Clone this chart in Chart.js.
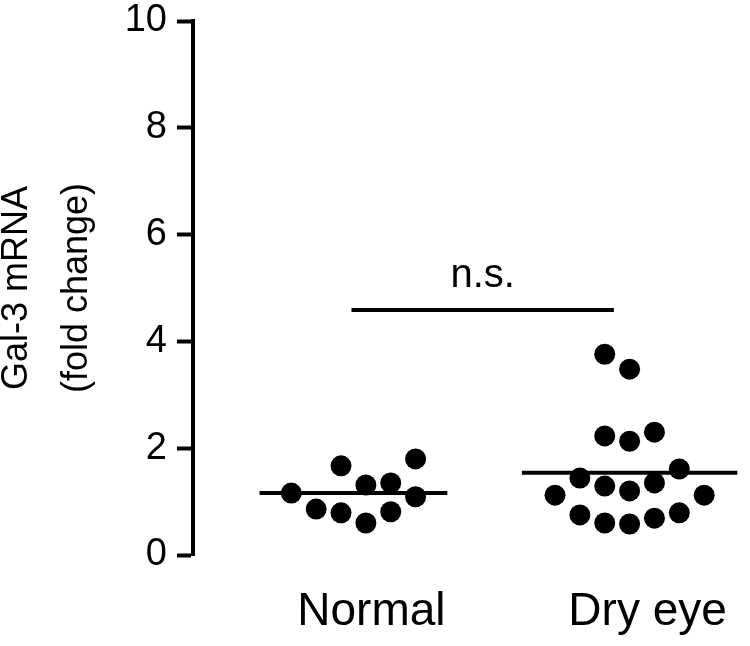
<!DOCTYPE html>
<html>
<head>
<meta charset="utf-8">
<script src="https://cdn.jsdelivr.net/npm/chart.js@4/dist/chart.umd.min.js"></script>
<style>
  html, body { margin: 0; padding: 0; background: #fff; }
  #wrap { width: 750px; height: 646px; }
</style>
</head>
<body>
<div id="wrap"><canvas id="c" width="750" height="646"></canvas></div>
<script>
// ---- Data ----
const categories = ['Normal', 'Dry eye'];
const categoryPositions = [1, 2];
const yTicks = [0, 2, 4, 6, 8, 10];

const normalValues = [1.16, 0.86, 1.67, 0.79, 1.31, 0.60, 1.35, 0.81, 1.80, 1.09];
const normalSlots  = [-2.5, -1.5, -0.5, -0.5, 0.5, 0.5, 1.5, 1.5, 2.5, 2.5];

const dryEyeValues = [3.76, 3.48, 2.23, 2.13, 2.30, 1.44, 1.29, 1.20, 1.35, 1.61, 1.12, 1.12, 0.75, 0.60, 0.58, 0.69, 0.79];
const dryEyeSlots  = [-1, 0, -1, 0, 1, -2, -1, 0, 1, 2, -3, 3, -2, -1, 0, 1, 2];

const groupMeans = [1.16, 1.54];
const meanHalfWidths = [0.34, 0.39];

const sigBar = { from: 0.993, to: 1.943, y: 4.59, label: 'n.s.', labelY: 5.02 };

const yTitle = ['Gal-3 mRNA', '(fold change)'];

// ---- Build datasets ----
const slotWidth = 0.09;
function pts(center, values, slots) {
  return values.map((v, i) => ({ x: center + slots[i] * slotWidth, y: v }));
}
const FONT = "'Liberation Sans', Arial, Helvetica, sans-serif";

const datasets = [
  {
    label: 'Normal',
    data: pts(categoryPositions[0], normalValues, normalSlots),
    pointRadius: 10.5, pointBackgroundColor: '#000', pointBorderWidth: 0, showLine: false
  },
  {
    label: 'Dry eye',
    data: pts(categoryPositions[1], dryEyeValues, dryEyeSlots),
    pointRadius: 10.5, pointBackgroundColor: '#000', pointBorderWidth: 0, showLine: false
  }
];
groupMeans.forEach((m, i) => {
  datasets.push({
    label: 'mean ' + categories[i],
    type: 'line',
    data: [{ x: categoryPositions[i] - meanHalfWidths[i], y: m }, { x: categoryPositions[i] + meanHalfWidths[i], y: m }],
    borderColor: '#000', borderWidth: 4, pointRadius: 0, showLine: true, fill: false
  });
});
datasets.push({
  label: 'bracket',
  type: 'line',
  data: [{ x: sigBar.from, y: sigBar.y }, { x: sigBar.to, y: sigBar.y }],
  borderColor: '#000', borderWidth: 4, pointRadius: 0, showLine: true, fill: false
});

const sigLabelPlugin = {
  id: 'sigLabel',
  afterDatasetsDraw(chart) {
    const { ctx, scales: { x, y } } = chart;
    ctx.save();
    ctx.fillStyle = '#000';
    ctx.font = '40px ' + FONT;
    ctx.textAlign = 'center';
    ctx.textBaseline = 'alphabetic';
    ctx.fillText(sigBar.label, x.getPixelForValue((sigBar.from + sigBar.to) / 2), y.getPixelForValue(sigBar.labelY));
    ctx.restore();
  }
};

new Chart(document.getElementById('c'), {
  type: 'scatter',
  data: { datasets },
  plugins: [sigLabelPlugin],
  options: {
    responsive: false,
    animation: false,
    layout: { padding: { top: 21, right: 5, left: 0, bottom: 0 } },
    plugins: { legend: { display: false }, tooltip: { enabled: false } },
    scales: {
      x: {
        type: 'linear',
        min: 0.419, max: 2.398,
        afterBuildTicks(scale) { scale.ticks = categoryPositions.map(v => ({ value: v })); },
        afterFit(scale) { scale.height = 91; scale.paddingLeft = 0; scale.paddingRight = 0; },
        border: { display: false },
        grid: { display: false, drawTicks: false },
        ticks: {
          padding: 30,
          labelOffset: 18,
          color: '#000',
          font: { family: FONT, size: 46 },
          callback(v) { const i = categoryPositions.indexOf(v); return i >= 0 ? categories[i] : ''; }
        }
      },
      y: {
        min: 0, max: 10,
        afterBuildTicks(scale) { scale.ticks = yTicks.map(v => ({ value: v })); },
        afterFit(scale) { scale.width = 193; scale.paddingTop = 0; scale.paddingBottom = 0; },
        border: { display: true, color: '#000', width: 4 },
        grid: { drawOnChartArea: false, drawTicks: true, tickLength: 16, tickColor: '#000', tickWidth: 4 },
        ticks: { padding: 10, color: '#000', font: { family: FONT, size: 38 } },
        title: {
          display: true,
          text: yTitle,
          color: '#000',
          font: { family: FONT, size: 36, lineHeight: '60px' },
          padding: { top: -13, bottom: 0 }
        }
      }
    }
  }
});
</script>
</body>
</html>
